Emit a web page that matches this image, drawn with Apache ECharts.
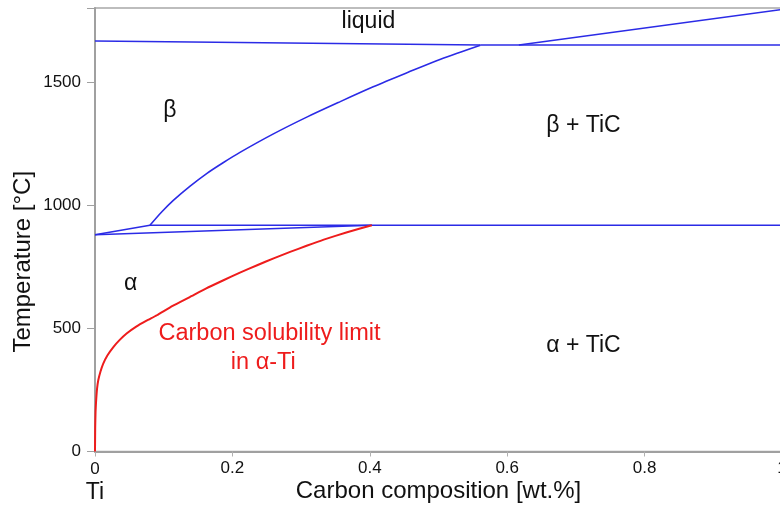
<!DOCTYPE html>
<html>
<head>
<meta charset="utf-8">
<script src="https://cdn.jsdelivr.net/npm/echarts@6/dist/echarts.min.js"></script>
<style>
html,body{margin:0;padding:0;background:#fff;}
#main{width:780px;height:505px;}
</style>
</head>
<body>
<div id="main"></div>
<script>
// Axis ticks
var xTicks = [0, 0.2, 0.4, 0.6, 0.8, 1];
var yTicks = [0, 500, 1000, 1500];

// Phase boundary lines: [carbon wt.%, temperature °C]
var liquidusBeta = [[0, 1666], [0.561, 1650]];
var peritectic = [[0.561, 1650], [1, 1650]];
var liquidusTiC = [[0.617, 1650], [1, 1794]];
var betaSolvus = [[0.080, 918], [0.097, 972], [0.114, 1019], [0.138, 1076], [0.163, 1129], [0.187, 1173],
  [0.211, 1214], [0.259, 1288], [0.309, 1358], [0.357, 1420], [0.405, 1480], [0.455, 1538],
  [0.503, 1592], [0.561, 1649]];
var eutectoid = [[0.080, 918], [1, 918]];
var transusUpper = [[0, 880], [0.080, 918]];
var transusLower = [[0, 880], [0.403, 918]];
var alphaSolubility = [[0, 0], [0.0003, 100], [0.0008, 160], [0.0015, 200], [0.003, 255], [0.0048, 290],
  [0.008, 325], [0.012, 357], [0.018, 390], [0.027, 425], [0.036, 453], [0.046, 479], [0.06, 507],
  [0.075, 531], [0.09, 553], [0.113, 591], [0.138, 627], [0.162, 662], [0.187, 695], [0.211, 726],
  [0.236, 756], [0.26, 784], [0.284, 810], [0.308, 835], [0.333, 860], [0.367, 890], [0.403, 918]];

// Region labels: [x, y, text]
var regionLabels = [
  [0.398, 1745, 'liquid'],
  [0.109, 1384, 'β'],
  [0.711, 1323, 'β + TiC'],
  [0.052, 683, 'α'],
  [0.711, 428, 'α + TiC']
];
var redLabels = [
  [0.254, 480, 'Carbon solubility limit'],
  [0.245, 363, 'in α-Ti']
];

var FONT = 'Liberation Sans, Arial, sans-serif';
var BLUE = '#2b2be6';
var RED = '#ee1c1c';

function lineSeries(data, color, width, smooth) {
  return {
    type: 'line', data: data, symbol: 'none', smooth: smooth || false,
    lineStyle: {color: color, width: width}, silent: true, animation: false, z: 3
  };
}

var chart = echarts.init(document.getElementById('main'), null, {renderer: 'canvas'});
var option = {
  animation: false,
  backgroundColor: '#ffffff',
  grid: {left: 95, right: -2, top: 8, bottom: 53.5, containLabel: false, outerBoundsMode: 'none',
    show: true, borderColor: '#a8a8a8', borderWidth: 1.5, backgroundColor: 'transparent'},
  xAxis: {
    type: 'value', min: xTicks[0], max: xTicks[xTicks.length - 1], interval: 0.2,
    name: 'Carbon composition [wt.%]', nameLocation: 'middle', nameGap: 40, nameMoveOverlap: false,
    nameTextStyle: {fontFamily: FONT, fontSize: 24, color: '#111', verticalAlign: 'middle'},
    axisLine: {lineStyle: {color: '#a0a0a0', width: 2}},
    axisTick: {show: true, length: 5, lineStyle: {color: '#b0b0b0'}},
    splitLine: {show: false},
    axisLabel: {
      margin: 8, fontFamily: FONT, fontSize: 17, color: '#111',
      formatter: function (v) {
        if (v === 0) return '{a|0}\n{b|Ti}';
        return String(Math.round(v * 10) / 10);
      },
      rich: {
        a: {fontFamily: FONT, fontSize: 17, color: '#111', lineHeight: 20, align: 'center'},
        b: {fontFamily: FONT, fontSize: 23, color: '#111', lineHeight: 26, align: 'center'}
      }
    }
  },
  yAxis: {
    type: 'value', min: yTicks[0], max: 1800, interval: 500,
    name: 'Temperature [°C]', nameLocation: 'middle', nameGap: 60, nameMoveOverlap: false,
    nameTextStyle: {fontFamily: FONT, fontSize: 24, color: '#111', padding: [0, 64, 0, 0]},
    axisLine: {show: true, lineStyle: {color: '#a0a0a0', width: 2}},
    axisTick: {show: true, length: 8, lineStyle: {color: '#a0a0a0'}},
    splitLine: {show: false},
    axisLabel: {
      margin: 14, fontFamily: FONT, fontSize: 17, color: '#111',
      formatter: function (v) { return yTicks.indexOf(v) >= 0 ? String(v) : ''; }
    }
  },
  series: [
    lineSeries(liquidusBeta, BLUE, 1.6),
    lineSeries(peritectic, BLUE, 1.6),
    lineSeries(liquidusTiC, BLUE, 1.6),
    lineSeries(betaSolvus, BLUE, 1.6, 0.3),
    lineSeries(eutectoid, BLUE, 1.6),
    lineSeries(transusUpper, BLUE, 1.6),
    lineSeries(transusLower, BLUE, 1.6),
    lineSeries(alphaSolubility, RED, 2, 0.15),
    {
      type: 'scatter', symbolSize: 0, silent: true, animation: false, z: 5,
      itemStyle: {opacity: 1},
      data: regionLabels.map(function (d) { return {value: [d[0], d[1]], name: d[2]}; }),
      label: {show: true, position: 'inside', formatter: function (p) { return p.name; },
        fontFamily: FONT, fontSize: 23, color: '#111', opacity: 1}
    },
    {
      type: 'scatter', symbolSize: 0, silent: true, animation: false, z: 5,
      itemStyle: {opacity: 1},
      data: redLabels.map(function (d) { return {value: [d[0], d[1]], name: d[2]}; }),
      label: {show: true, position: 'inside', formatter: function (p) { return p.name; },
        fontFamily: FONT, fontSize: 23.5, color: RED, opacity: 1}
    }
  ]
};
chart.setOption(option);
</script>
</body>
</html>
